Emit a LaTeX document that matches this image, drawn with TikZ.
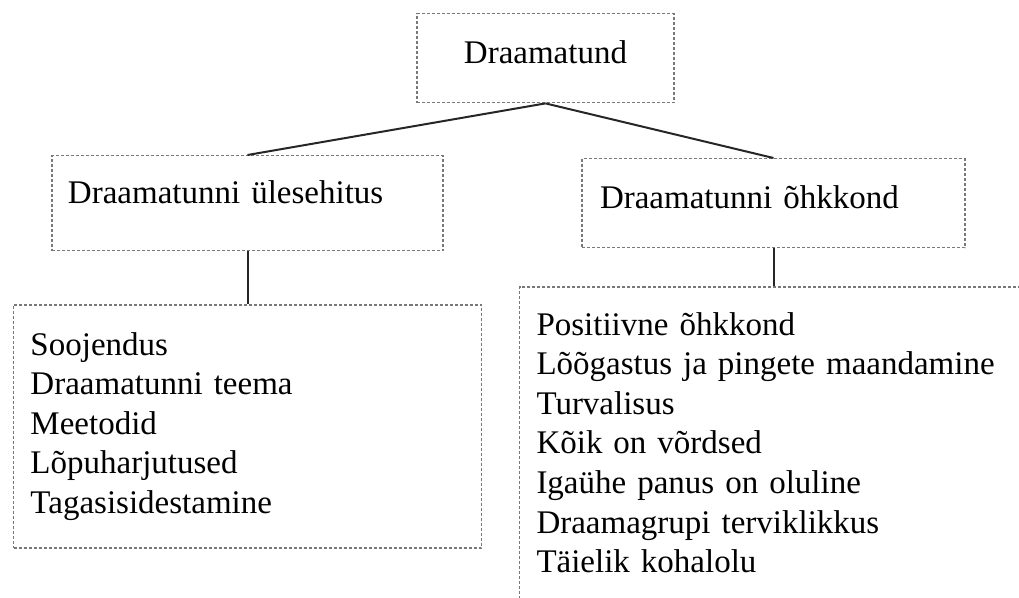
\documentclass[tikz,border=0pt]{standalone}
\usepackage{fontspec}
\setmainfont{Liberation Serif}
\usepackage{xcolor}
\definecolor{framegray}{RGB}{120,120,120}
\usepackage{tikz}
\usetikzlibrary{
  positioning
}
\tikzset{
  framebox/.style={draw=framegray, line width=0.7pt,
    dash pattern=on 1.5pt off 1pt, inner sep=0pt,
    font=\fontsize{16.5}{19.8}\selectfont},
  listbox/.style={framebox, align=left, inner xsep=8.5pt},
  treeline/.style={line width=1pt, black!85},
}

\begin{document}
\begin{tikzpicture}[x=0.5pt, y=-0.5pt]
  \useasboundingbox (0,0) rectangle (1019,598);
  \clip (0,0) rectangle (1019,598);

  % Top: the lesson
  \node[framebox, anchor=north, minimum width=128.5pt,
        text height=25pt, text depth=19.5pt] (tund) at (545.5,13)
    {Draamatund};

  % Middle: two branches
  \node[listbox, anchor=north, text width=179.5pt, inner xsep=8pt,
        text height=24pt, text depth=23.5pt] (ulesehitus) at (247.5,155)
    {Draamatunni ülesehitus};
  \node[listbox, anchor=north, text width=173.5pt, inner xsep=9pt,
        text height=25pt, text depth=19.5pt] (ohkkond) at (773.5,158)
    {Draamatunni õhkkond};

  % Bottom: the lists
  \node[listbox, below=26.5pt of ulesehitus, text width=217pt,
        text height=25pt, text depth=96.5pt] (osad)
    {Soojendus\\
     Draamatunni teema\\
     Meetodid\\
     Lõpuharjutused\\
     Tagasisidestamine};
  \node[listbox, below=19pt of ohkkond, text width=237pt,
        text height=24pt, text depth=143.5pt] (tunnused)
    {Positiivne õhkkond\\
     Lõõgastus ja pingete maandamine\\
     Turvalisus\\
     Kõik on võrdsed\\
     Igaühe panus on oluline\\
     Draamagrupi terviklikkus\\
     Täielik kohalolu};

  \draw[treeline] (tund.south) -- (ulesehitus.north);
  \draw[treeline] (tund.south) -- (ohkkond.north);
  \draw[treeline] (ulesehitus.south) -- (osad.north);
  \draw[treeline] (ohkkond.south) -- (tunnused.north);
\end{tikzpicture}
\end{document}
